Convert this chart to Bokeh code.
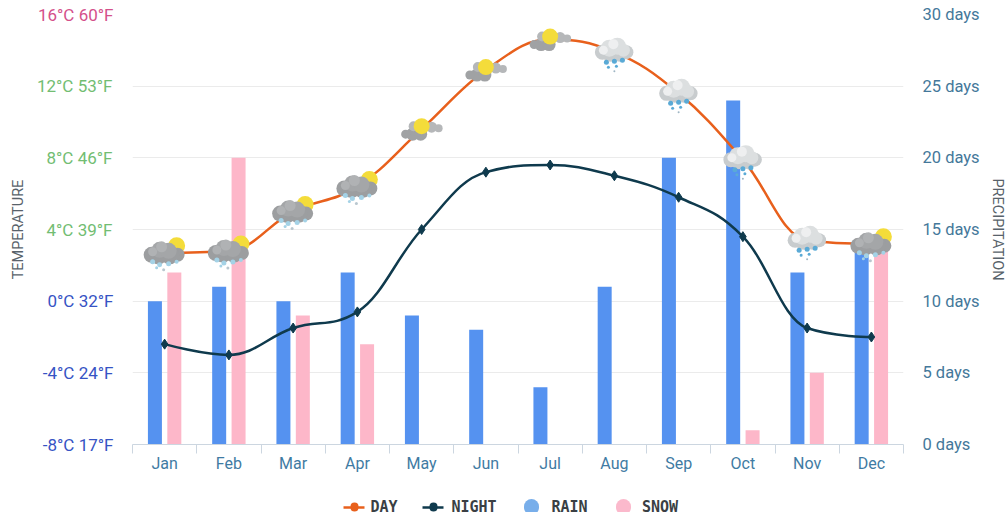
import numpy as np
from bokeh.plotting import figure
from bokeh.embed import file_html
from bokeh.resources import INLINE
from bokeh.models import ColumnDataSource, FixedTicker, LinearAxis, Range1d, Title

months = ["Jan","Feb","Mar","Apr","May","Jun","Jul","Aug","Sep","Oct","Nov","Dec"]
day_temp = [2.7,2.8,5.0,6.4,9.6,12.9,14.6,13.9,11.6,7.9,3.4,3.2]
night_temp = [-2.4,-3.0,-1.5,-0.6,4.0,7.2,7.6,7.0,5.8,3.6,-1.5,-2.0]
rain_days = [10,11,10,12,9,8,4,11,20,24,12,14]
snow_days = [12,20,9,7,0,0,0,0,0,1,5,14]
cold_ticks = {-8: "-8°C 17°F", -4: "-4°C 24°F", 0: "0°C 32°F"}
mild_ticks = {4: "4°C 39°F", 8: "8°C 46°F", 12: "12°C 53°F"}
warm_ticks = {16: "16°C 60°F"}
temp_ticks = [-8,-4,0,4,8,12,16]
day_ticks = [0,5,10,15,20,25,30]
icon_kind = ["snow","snow","snow","snow","sun","sun","sun","rain","rain","rain","rain","snow"]
legend_names = ["DAY","NIGHT","RAIN","SNOW"]

FW, FH = 771, 430
FONT = "Roboto"
DAY_C, NIGHT_C, RAIN_C, SNOW_C = "#e8601c", "#0f3a4d", "#5592f0", "#fdb7c9"
xc = np.arange(12) + 0.5
px_x, px_y = 12 / FW, 24 / FH

p = figure(width=1006, height=512, output_backend="svg", toolbar_location=None,
           x_range=Range1d(0, 12), y_range=Range1d(-8, 16), frame_width=FW, frame_height=FH,
           min_border_left=132, min_border_top=14, min_border_right=26, min_border_bottom=0,
           outline_line_color=None, background_fill_color="white", border_fill_color="white")
p.extra_y_ranges = {"days": Range1d(0, 30)}
p.xgrid.visible = False
p.ygrid.ticker = FixedTicker(ticks=temp_ticks)
p.ygrid.grid_line_color = "#ebebeb"
p.ygrid.grid_line_width = 1

def temp_axis(axis, ticks, color, standoff):
    axis.ticker = FixedTicker(ticks=list(ticks))
    axis.major_label_overrides = ticks
    axis.axis_line_color = None
    axis.major_tick_line_color = None
    axis.minor_tick_line_color = None
    axis.major_tick_out = 0
    axis.major_label_standoff = standoff
    axis.major_label_text_color = color
    axis.major_label_text_font = FONT
    axis.major_label_text_font_size = "17px"

temp_axis(p.yaxis[0], cold_ticks, "#3653c4", 19)
for ticks, col, st in ((mild_ticks, "#72bd72", -73), (warm_ticks, "#d4508a", -80)):
    a = LinearAxis()
    temp_axis(a, ticks, col, st)
    p.add_layout(a, "left")

ax = p.xaxis[0]
ax.ticker = FixedTicker(ticks=list(xc), minor_ticks=list(range(13)))
ax.major_label_overrides = {float(c): m for c, m in zip(xc, months)}
ax.major_tick_line_color = None
ax.major_tick_out = 0
ax.minor_tick_line_color = "#ccd6e0"
ax.minor_tick_out = 9
ax.minor_tick_in = 0
ax.axis_line_color = "#ccd6e0"
ax.major_label_standoff = 0
ax.major_label_text_color = "#3f7ba3"
ax.major_label_text_font = FONT
ax.major_label_text_font_size = "16px"

right = LinearAxis(y_range_name="days", ticker=FixedTicker(ticks=day_ticks),
                   major_label_overrides={d: f"{d} days" for d in day_ticks},
                   axis_line_color=None, major_tick_line_color=None, minor_tick_line_color=None,
                   major_tick_out=0, major_label_standoff=19, major_label_text_color="#44789a",
                   major_label_text_font=FONT, major_label_text_font_size="16.5px")
p.add_layout(right, "right")

# bars
off = 9.7 / 64.25
bw = 14 / 64.25
p.vbar(x=xc - off, top=rain_days, bottom=0, width=bw, y_range_name="days", color=RAIN_C, line_color=None)
p.vbar(x=xc + off, top=snow_days, bottom=0, width=bw, y_range_name="days", color=SNOW_C, line_color=None)

def spline(xs, ys, smoothing=1.5):
    """Highcharts-style spline control points derived from the data."""
    n = len(xs)
    L, R = [None] * n, [None] * n
    for i in range(n):
        x, y = xs[i], ys[i]
        if i == 0 or i == n - 1:
            L[i] = R[i] = (x, y)
            continue
        lx, ly, nx, ny = xs[i-1], ys[i-1], xs[i+1], ys[i+1]
        lcx, lcy = (smoothing*x + lx)/(smoothing+1), (smoothing*y + ly)/(smoothing+1)
        rcx, rcy = (smoothing*x + nx)/(smoothing+1), (smoothing*y + ny)/(smoothing+1)
        c = (rcy - lcy) * (rcx - x) / (rcx - lcx) + y - rcy
        lcy += c; rcy += c
        if lcy > ly and lcy > y:
            lcy = max(ly, y); rcy = 2*y - lcy
        elif lcy < ly and lcy < y:
            lcy = min(ly, y); rcy = 2*y - lcy
        if rcy > ny and rcy > y:
            rcy = max(ny, y); lcy = 2*y - rcy
        elif rcy < ny and rcy < y:
            rcy = min(ny, y); lcy = 2*y - rcy
        L[i], R[i] = (lcx, lcy), (rcx, rcy)
    return dict(x0=xs[:-1], y0=ys[:-1], x1=xs[1:], y1=ys[1:],
                cx0=[R[i][0] for i in range(n-1)], cy0=[R[i][1] for i in range(n-1)],
                cx1=[L[i+1][0] for i in range(n-1)], cy1=[L[i+1][1] for i in range(n-1)])

for vals, col in ((day_temp, DAY_C), (night_temp, NIGHT_C)):
    p.bezier(source=ColumnDataSource(spline(list(xc), list(vals))), x0="x0", y0="y0", x1="x1", y1="y1",
             cx0="cx0", cy0="cy0", cx1="cx1", cy1="cy1", line_color=col, line_width=2.5)
p.scatter(xc, night_temp, marker="diamond", size=10, color=NIGHT_C)

# weather icons: offsets in pixels around each day point
G2, G3, G4 = "#9c9ea0", "#b0b2b4", "#a4a6a8"
W1, W2, W3 = "#c8ccce", "#dcdfe0", "#eeeff0"
Y = "#f4dc3a"
FL, DR = "#a4d2e6", "#5aaad6"
parts = {
    "snow": [(12,-7,17,Y),(-13,2,16,G2),(13,2,14,G2),(-6,2,19,G2),(5,2,19,G2),(-5,-3,16,G4),(4,-2,16,G4),
             (-3,-6,11,G3),(-12,-1,9,G3),(-12,9,5,FL),(-5,12,5,FL),(4,11,5,FL),(12,9,4,FL),(-8,15,3,FL),(-1,17,3,"#b9c7cf")],
    "sun": [(-9,5,13,"#a0a2a4"),(-1,5,13,"#a0a2a4"),(-16,5,9,"#a0a2a4"),(-8,-3,10,"#b5b7b9"),(10,-2,11,"#b5b7b9"),(17,-1,8,"#b5b7b9"),
            (0,-3,16,Y)],
    "rain": [(-12,0,15,W1),(12,0,14,W1),(-4,1,17,W1),(5,1,17,W1),(-5,-4,17,W2),(3,-6,17,W2),(9,-2,13,W2),
             (-1,-8,10,W3),(-11,-2,9,W3),(-8,10,5,DR),(0,9,5,DR),(8,8,5,DR),(-6,15,3,DR),(2,14,3,DR),(0,19,2,"#9fb6c4")],
}
ix, iy, isz, icol = [], [], [], []
for c, t, kind in zip(xc, day_temp, icon_kind):
    for dx, dy, s, col in parts[kind]:
        ix.append(c + dx * px_x); iy.append(t - dy * px_y); isz.append(s); icol.append(col)
p.scatter(x=ix, y=iy, size=isz, color=icol, line_color=None, marker="circle")

# axis titles
title_kw = dict(align="center", text_color="#58626a", text_font=FONT, text_font_size="14.5px", text_font_style="normal")
p.add_layout(Title(text="TEMPERATURE", standoff=14, **title_kw), "left")
p.add_layout(Title(text="PRECIPITATION", standoff=13, **title_kw), "right")

# legend row below the month axis, built from stacked zero-height axes
def to_x(px):
    return (px - 132) * px_x

def row_axis(center, **kw):
    t = to_x(center)
    a = LinearAxis(ticker=FixedTicker(ticks=[t]), major_label_overrides={t: ""},
                   major_label_text_font_size="0pt", major_label_standoff=0, minor_tick_line_color=None,
                   major_tick_out=0, major_tick_in=0, axis_line_color=None, major_tick_line_color=None)
    a.update(**kw)
    p.add_layout(a, "below")

row_axis(140, major_tick_out=32)  # spacer between the months and the legend row
for center, half, col, dot in ((353.5, 10.5, DAY_C, 8), (432.5, 10.5, NIGHT_C, 8)):
    row_axis(center, bounds=(to_x(center - half), to_x(center + half)), axis_line_color=col, axis_line_width=2.5,
             major_tick_line_color=col, major_tick_line_width=dot, major_tick_line_cap="round", major_tick_in=1)
for center, col in ((531, "#78aeea"), (623, "#fbb9cc")):
    row_axis(center, major_tick_line_color=col, major_tick_line_width=15, major_tick_line_cap="round", major_tick_in=1)

name_x = [to_x(v) for v in (383.5, 473.5, 569, 659.5)]
names = LinearAxis(ticker=FixedTicker(ticks=name_x), major_label_overrides=dict(zip(name_x, legend_names)),
                   axis_line_color=None, major_tick_line_color=None, minor_tick_line_color=None,
                   major_tick_out=0, major_tick_in=0, major_label_standoff=-10, major_label_text_color="#3a3f44",
                   major_label_text_font="DejaVu Sans Mono", major_label_text_font_style="bold",
                   major_label_text_font_size="15px")
p.add_layout(names, "below")

open("out.html", "w").write(file_html(p, INLINE))
